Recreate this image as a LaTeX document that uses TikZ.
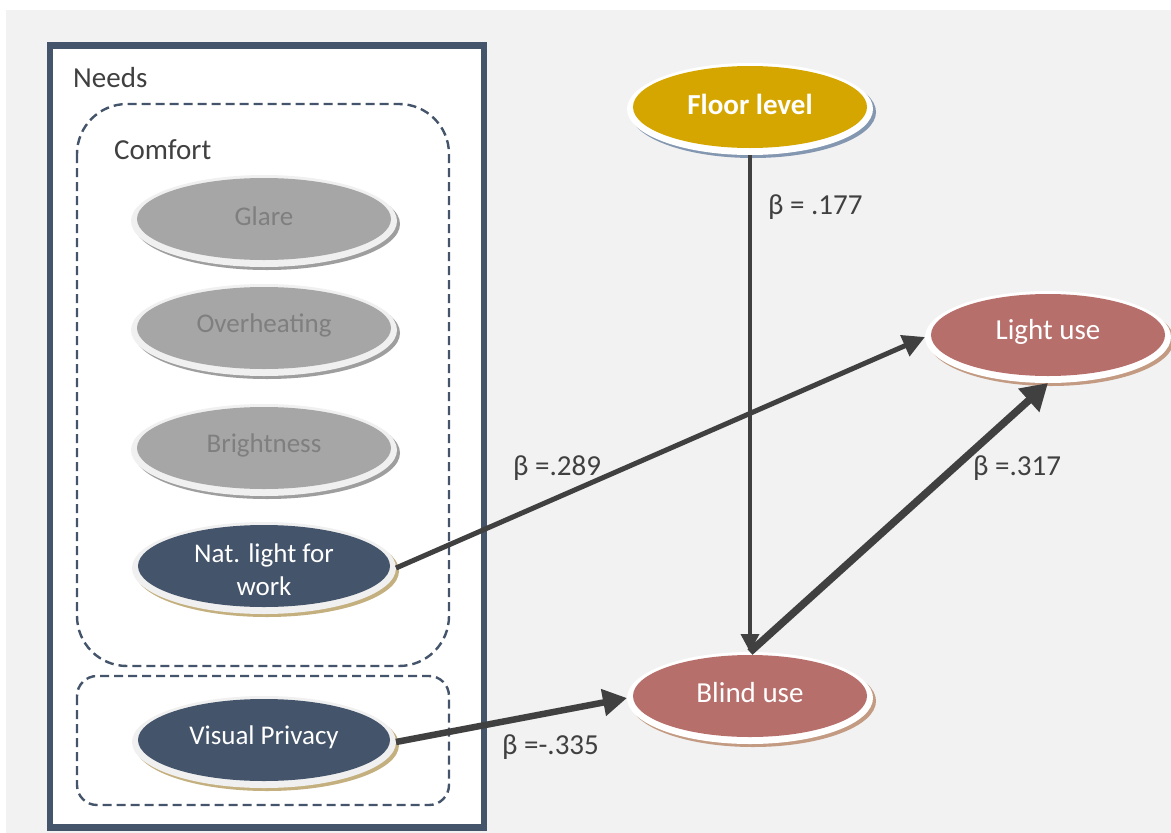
\documentclass[tikz,border=0pt]{standalone}
\usepackage{fontspec}
\setmainfont{Carlito}
\usetikzlibrary{arrows.meta,shapes.geometric}
\definecolor{bgc}{HTML}{F2F2F2}
\definecolor{navy}{HTML}{44546A}
\definecolor{grayfill}{HTML}{A6A6A6}
\definecolor{graytext}{HTML}{7F7F7F}
\definecolor{rimc}{HTML}{F0F0F0}
\definecolor{grayshad}{HTML}{9E9E9E}
\definecolor{tanshad}{HTML}{C4B07F}
\definecolor{goldc}{HTML}{D5A600}
\definecolor{blueshad}{HTML}{8497B0}
\definecolor{redc}{HTML}{B76F6C}
\definecolor{redshad}{HTML}{C39A82}
\definecolor{arrc}{HTML}{404040}
\definecolor{txtc}{HTML}{404040}
\newcommand\fs{\fontsize{27}{33}\selectfont}
\newcommand\fb{\fontsize{29}{35}\selectfont}
\newcommand\bev[9]{%
  \pgfmathsetmacro\rxa{#4}%
  \pgfmathsetmacro\rxb{#4+6}%
  \fill[#7] (#2+3,#3+5) ellipse [x radius=\rxb pt, y radius=46pt];
  \fill[#6] (#2,#3+2) ellipse [x radius=\rxb pt, y radius=46pt];
  \fill[#5] (#2,#3) ellipse [x radius=\rxa pt, y radius=41pt];
  \node[ellbox, minimum width=2*\rxb pt, minimum height=92pt] (#1) at (#2,#3+2) {};
  \node[font=\fs, align=center, inner sep=0pt, #8] (#1t) at (#2,#3-3) {#9};
}
\tikzset{
  ellbox/.style={ellipse, inner sep=0pt, outer sep=0pt},
  dashbox/.style={draw=navy, line width=2.4pt, dash pattern=on 9pt off 5pt},
  lbl/.style={text=txtc, font=\fb, inner sep=0pt, anchor=west},
  conn/.style={draw=arrc, line cap=butt},
}
\begin{document}
\begin{tikzpicture}[x=1pt,y=-1pt]
\useasboundingbox (0,0) rectangle (1171,833);
\fill[white] (0,0) rectangle (1171,833);
\fill[bgc] (6,10) rectangle (1171,833);
% outer Needs box
\draw[navy, line width=6.5pt, fill=white] (50,45.5) rectangle (484,827.5);
\node[lbl] (needs) at (73,78) {Needs};
% dashed groups
\draw[dashbox, rounded corners=50pt] (77,104) rectangle (449,666);
\draw[dashbox, rounded corners=20pt] (77,676) rectangle (449,805);
\node[lbl] (comfort) at (114,150) {Comfort};
% ellipses
\bev{glare}{264}{219}{127}{grayfill}{rimc}{grayshad}{text=graytext}{Glare}
\bev{overh}{264}{328}{127}{grayfill}{rimc}{grayshad}{text=graytext}{Overheating}
\bev{bright}{264}{448}{127}{grayfill}{rimc}{grayshad}{text=graytext}{Brightness}
\bev{nat}{264}{566}{126}{navy}{rimc}{tanshad}{text=white, yshift=-7pt}{Nat. light for\\work}
\bev{vis}{264}{740}{126}{navy}{rimc}{tanshad}{text=white}{Visual Privacy}
\bev{floor}{750}{107}{117}{goldc}{white}{blueshad}{text=white, font=\fb\bfseries}{Floor level}
\bev{blind}{750}{696}{117}{redc}{white}{redshad}{text=white, font=\fb}{Blind use}
\bev{light}{1048}{335}{117}{redc}{white}{redshad}{text=white, font=\fb}{Light use}
% connectors
\draw[conn, line width=3.5pt, -{Triangle[length=18pt,width=18pt]}] (floor.south) -- (blind.north);
\draw[conn, line width=5pt, -{Triangle[length=22pt,width=22pt]}] (nat.east) -- (light.west);
\draw[conn, line width=7.5pt, -{Triangle[length=26pt,width=30pt]}] (blind.north) -- (light.south);
\draw[conn, line width=6.5pt, -{Triangle[length=24pt,width=26pt]}] (vis.east) -- (blind.west);
% labels
\node[lbl] (b177) at (768,207) {β = .177};
\node[lbl] (b289) at (513,468) {β =.289};
\node[lbl] (b317) at (973,468) {β =.317};
\node[lbl] (b335) at (502,747) {β =-.335};
\end{tikzpicture}
\end{document}
